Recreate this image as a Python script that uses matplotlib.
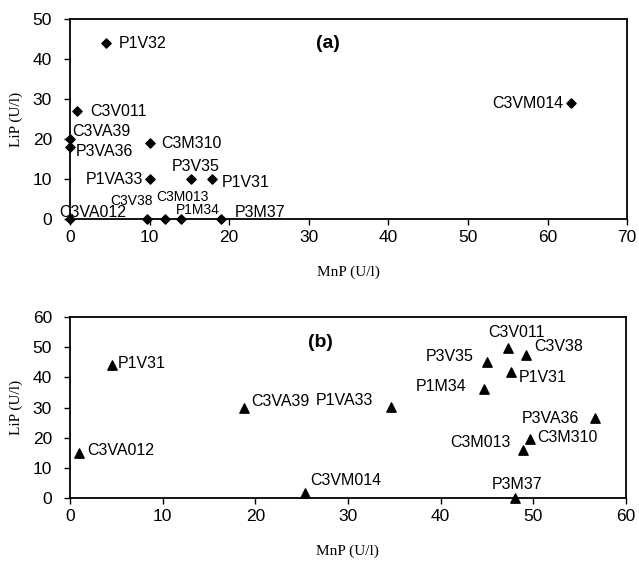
import matplotlib
matplotlib.use("Agg")
import matplotlib.pyplot as plt

plt.rcParams['font.family'] = 'Liberation Sans'

# panel (a) - diamonds
names_a = ["P1V32", "C3V011", "C3VA39", "P3VA36", "C3M310", "P1VA33", "P3V35", "P1V31",
           "C3VA012", "C3V38", "C3M013", "P1M34", "P3M37", "C3VM014"]
mnp_a = [4.5, 0.9, 0, 0, 10, 10, 15.2, 17.8, 0, 9.7, 12, 14, 19, 63]
lip_a = [44, 27, 20, 18, 19, 10, 10, 10, 0, 0, 0, 0, 0, 29]

# panel (b) - triangles
names_b = ["P1V31", "C3VA39", "C3VA012", "C3VM014", "P1VA33", "C3V011", "C3V38", "P3V35",
           "P1V31", "P1M34", "P3VA36", "C3M310", "C3M013", "P3M37"]
mnp_b = [4.5, 18.8, 1, 25.4, 34.6, 47.3, 49.2, 45, 47.6, 44.7, 56.7, 49.7, 48.9, 48]
lip_b = [44, 30, 15, 1.5, 30.2, 49.6, 47.3, 45, 41.8, 36, 26.5, 19.5, 15.8, 0]

# label offsets (pixels) and alignment
off_a = [(13, 0, 'left'), (13, 0, 'left'), (2, 8, 'left'), (6, -4, 'left'), (12, 0, 'left'),
         (-6, 0, 'right'), (5, 13, 'center'), (10, -3, 'left'), (-11, 7, 'left'),
         (6, 18, 'right'), (-9, 22, 'left'), (-6, 9, 'left'), (14, 7, 'left'), (-8, 0, 'right')]
small_a = [False] * 8 + [False, True, True, True, False, False]
off_b = [(6, 2, 'left'), (7, 6, 'left'), (8, 2, 'left'), (5, 13, 'left'), (-17, 6, 'right'),
         (8, 16, 'center'), (8, 9, 'left'), (-13, 6, 'right'), (8, -6, 'left'),
         (-18, 3, 'right'), (-16, 0, 'right'), (7, 2, 'left'), (-12, 8, 'right'), (2, 13, 'center')]

fig = plt.figure(figsize=(6.39, 5.61), dpi=100)
ax1 = fig.add_axes([0.1095, 0.6096, 0.872, 0.3565])
ax2 = fig.add_axes([0.1095, 0.1123, 0.870, 0.3226])

ax1.scatter(mnp_a, lip_a, marker='D', s=22, color='black', clip_on=False, zorder=3)
for n, x, y, (dx, dy, ha), sm in zip(names_a, mnp_a, lip_a, off_a, small_a):
    ax1.annotate(n, (x, y), xytext=(dx, dy), textcoords='offset pixels', ha=ha, va='center',
                 fontsize=10 if sm else 11.5)
ax1.set_xlim(0, 70)
ax1.set_ylim(0, 50)
ax1.set_xticks(range(0, 71, 10))
ax1.set_yticks(range(0, 51, 10))
ax1.text(0.463, 0.88, "(a)", transform=ax1.transAxes, fontsize=14, fontweight='bold', ha='center', va='center')

ax2.scatter(mnp_b, lip_b, marker='^', s=45, color='black', clip_on=False, zorder=3)
for n, x, y, (dx, dy, ha) in zip(names_b, mnp_b, lip_b, off_b):
    ax2.annotate(n, (x, y), xytext=(dx, dy), textcoords='offset pixels', ha=ha, va='center',
                 fontsize=11.5)
ax2.set_xlim(0, 60)
ax2.set_ylim(0, 60)
ax2.set_xticks(range(0, 61, 10))
ax2.set_yticks(range(0, 61, 10))
ax2.text(0.451, 0.86, "(b)", transform=ax2.transAxes, fontsize=14, fontweight='bold', ha='center', va='center')

for ax in (ax1, ax2):
    for s in ax.spines.values():
        s.set_linewidth(1.3)
    ax.tick_params(direction='out', length=4, width=1, labelsize=12.5, pad=4)
    ax.tick_params(axis='y', pad=9)
    ax.set_xlabel("MnP (U/l)", family='Liberation Serif', fontsize=11, labelpad=15)
    ax.set_ylabel("LiP (U/l)", family='Liberation Serif', fontsize=11, labelpad=7)

fig.savefig("out.png", dpi=100)
